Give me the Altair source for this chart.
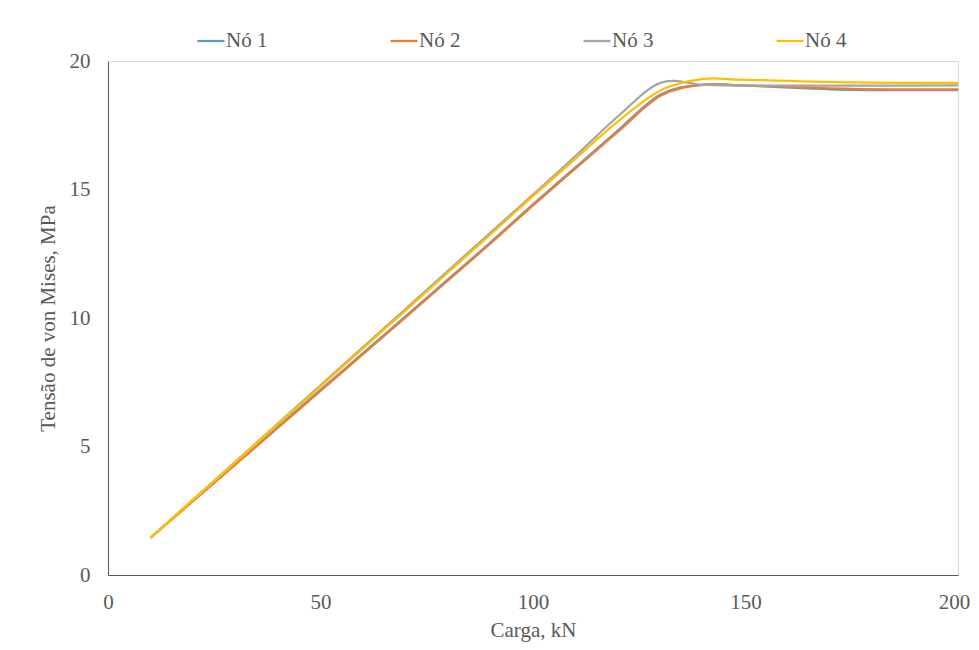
import altair as alt
import pandas as pd

carga = [10, 20, 30, 40, 50, 60, 70, 80, 90, 100, 110, 120, 130, 140, 150, 175, 200]
no1 = [1.45, 2.89, 4.33, 5.77, 7.20, 8.63, 10.06, 11.50, 12.94, 14.42, 15.86, 17.30, 18.70, 19.08, 19.04, 18.88, 18.87]
no2 = [1.45, 2.87, 4.30, 5.73, 7.16, 8.59, 10.02, 11.46, 12.90, 14.38, 15.82, 17.25, 18.65, 19.07, 19.05, 18.92, 18.90]
no3 = [1.45, 2.93, 4.41, 5.90, 7.38, 8.87, 10.35, 11.84, 13.32, 14.80, 16.30, 17.85, 19.15, 19.07, 19.04, 19.04, 19.05]
no4 = [1.45, 2.92, 4.39, 5.87, 7.34, 8.82, 10.29, 11.77, 13.25, 14.74, 16.20, 17.65, 18.85, 19.30, 19.27, 19.17, 19.15]

series = ["Nó 1", "Nó 2", "Nó 3", "Nó 4"]
colors = ["#5B9BD5", "#ED7D31", "#A5A5A5", "#FFC000"]

rows = []
for name, vals in zip(series, [no1, no2, no3, no4]):
    for xv, yv in zip(carga, vals):
        rows.append({"Carga": xv, "Tensao": yv, "No": name, "ordem": series.index(name)})
df = pd.DataFrame(rows)

font = "Liberation Serif"
grey = "#595959"
fs = 21

chart = alt.Chart(df).mark_line(interpolate="cardinal", strokeWidth=2.25).encode(
    x=alt.X("Carga:Q", scale=alt.Scale(domain=[0, 200], nice=False),
            axis=alt.Axis(title="Carga, kN", values=[0, 50, 100, 150, 200],
                          ticks=False, labelPadding=16, titlePadding=7,
                          labelFlush=False, labelOverlap=False,
                          labelOffset=alt.condition("datum.value >= 200", alt.value(-4), alt.value(0)))),
    y=alt.Y("Tensao:Q", scale=alt.Scale(domain=[0, 20], nice=False),
            axis=alt.Axis(title="Tensão de von Mises, MPa", values=[0, 5, 10, 15, 20],
                          ticks=False, labelPadding=18, titlePadding=11,
                          labelFlush=False, labelOverlap=False)),
    color=alt.Color("No:N", scale=alt.Scale(domain=series, range=colors),
                    legend=alt.Legend(title=None, orient="none", legendX=88, legendY=-35,
                                      direction="horizontal", columns=4, columnPadding=118,
                                      symbolType="stroke", symbolSize=729, symbolStrokeWidth=2.25,
                                      labelFont=font, labelFontSize=fs, labelColor=grey,
                                      labelOffset=0)),
    order=alt.Order("ordem:Q"),
).properties(
    width=850, height=514,
    autosize=alt.AutoSizeParams(type="none"),
    padding={"left": 100, "top": 53, "right": 13, "bottom": 67},
).configure_view(
    stroke="#D9D9D9", strokeWidth=1
).configure_axis(
    grid=False, domainColor=grey, domainWidth=1,
    labelFont=font, labelFontSize=fs, labelColor=grey,
    titleFont=font, titleFontSize=fs, titleColor=grey, titleFontWeight="normal",
)

chart.save("out.html", embed_options={"renderer": "svg", "actions": False})
